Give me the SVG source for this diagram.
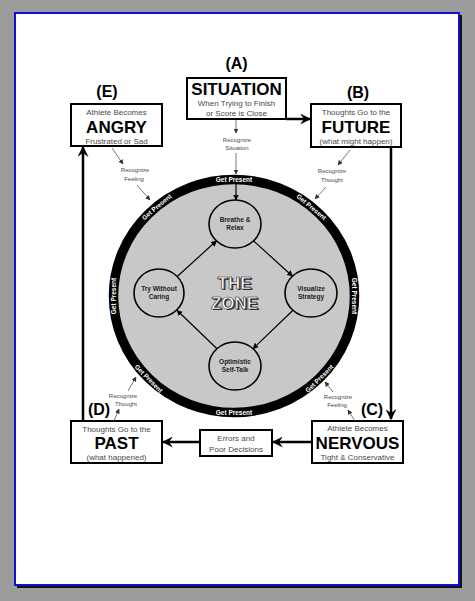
<svg xmlns="http://www.w3.org/2000/svg" width="475" height="601" viewBox="0 0 475 601">
<defs>
<style>
.lbl{font-family:"Liberation Sans",Arial,sans-serif;font-weight:bold;font-size:16px;fill:#000;text-anchor:middle}
.title{font-family:"Liberation Sans",Arial,sans-serif;font-weight:bold;font-size:17px;fill:#000;text-anchor:middle}
.sub{font-family:"Liberation Sans",Arial,sans-serif;font-size:8px;fill:#4a4a4a;text-anchor:middle}
.rec{font-family:"Liberation Sans",Arial,sans-serif;font-size:6px;fill:#4a4a4a;text-anchor:middle}
.box{fill:#fff;stroke:#000;stroke-width:2}
.thick{stroke:#000;stroke-width:2.5;fill:none;marker-end:url(#big)}
.thin{stroke:#555;stroke-width:0.8;fill:none;marker-end:url(#small)}
.inner{stroke:#000;stroke-width:1.2;fill:none;marker-end:url(#mid)}
.node{fill:#c8c8c8;stroke:#000;stroke-width:1.6}
.ntx{font-family:"Liberation Sans",Arial,sans-serif;font-weight:bold;font-size:6.5px;fill:#222;text-anchor:middle}
.gp{font-family:"Liberation Sans",Arial,sans-serif;font-weight:bold;font-size:6.5px;fill:#fff;text-anchor:middle;dominant-baseline:central}
.zone{font-family:"Liberation Sans",Arial,sans-serif;font-weight:bold;font-size:17px;text-anchor:middle}
</style>
<marker id="big" viewBox="0 0 10 10" refX="9" refY="5" markerWidth="11" markerHeight="11" markerUnits="userSpaceOnUse" orient="auto"><path d="M0,0 L10,5 L0,10 L3.5,5 z" fill="#000"/></marker>
<marker id="small" viewBox="0 0 10 10" refX="9" refY="5" markerWidth="5" markerHeight="5" markerUnits="userSpaceOnUse" orient="auto"><path d="M0,0 L10,5 L0,10 z" fill="#333"/></marker>
<marker id="mid" viewBox="0 0 10 10" refX="9" refY="5" markerWidth="6" markerHeight="6" markerUnits="userSpaceOnUse" orient="auto"><path d="M0,0 L10,5 L0,10 z" fill="#000"/></marker>
</defs>

<rect x="0" y="0" width="475" height="601" fill="#9c9c9c"/>
<rect x="17" y="15" width="445" height="573" fill="#111"/>
<rect x="15" y="13" width="444" height="572" fill="#fff" stroke="#1010d0" stroke-width="2"/>

<g id="zone">
<ellipse cx="234" cy="296" rx="120.5" ry="116.5" fill="#c8c8c8" stroke="#000" stroke-width="9.5"/>
<text class="gp" transform="translate(234,179.5)">Get Present</text>
<text class="gp" transform="translate(311.5,206.8) rotate(40)">Get Present</text>
<text class="gp" transform="translate(354.5,296) rotate(90)">Get Present</text>
<text class="gp" transform="translate(319.2,378.4) rotate(-45)">Get Present</text>
<text class="gp" transform="translate(234,412.5)">Get Present</text>
<text class="gp" transform="translate(148.8,378.4) rotate(45)">Get Present</text>
<text class="gp" transform="translate(113.5,296) rotate(-90)">Get Present</text>
<text class="gp" transform="translate(156.5,206.8) rotate(-40)">Get Present</text>
<text class="zone" x="236" y="290" fill="#333">THE</text>
<text class="zone" x="236" y="310" fill="#333">ZONE</text>
<text class="zone" x="234.5" y="288.5" fill="#fff" stroke="#222" stroke-width="0.6">THE</text>
<text class="zone" x="234.5" y="308.5" fill="#fff" stroke="#222" stroke-width="0.6">ZONE</text>
</g>

<g id="breathe">
<ellipse class="node" cx="235" cy="224" rx="26" ry="24"/>
<text class="ntx" x="235" y="222">Breathe &amp;</text>
<text class="ntx" x="235" y="230">Relax</text>
</g>
<g id="visualize">
<ellipse class="node" cx="311" cy="293" rx="26" ry="24"/>
<text class="ntx" x="311" y="291">Visualize</text>
<text class="ntx" x="311" y="299">Strategy</text>
</g>
<g id="optimistic">
<ellipse class="node" cx="235" cy="366" rx="26" ry="24"/>
<text class="ntx" x="235" y="364">Optimistic</text>
<text class="ntx" x="235" y="372">Self-Talk</text>
</g>
<g id="try">
<ellipse class="node" cx="159" cy="293" rx="25" ry="24"/>
<text class="ntx" x="159" y="291">Try Without</text>
<text class="ntx" x="159" y="299">Caring</text>
</g>

<g id="situation">
<text class="lbl" x="236.5" y="69">(A)</text>
<rect class="box" x="187" y="78" width="99" height="41"/>
<text class="title" x="236.5" y="94.5">SITUATION</text>
<text class="sub" x="236.5" y="105.5">When Trying to Finish</text>
<text class="sub" x="236.5" y="115.5">or Score is Close</text>
</g>
<g id="future">
<text class="lbl" x="358" y="98">(B)</text>
<rect class="box" x="311" y="104" width="90" height="43"/>
<text class="sub" x="356" y="115">Thoughts Go to the</text>
<text class="title" x="356" y="133">FUTURE</text>
<text class="sub" x="356" y="144">(what might happen)</text>
</g>
<g id="nervous">
<text class="lbl" x="372" y="415">(C)</text>
<rect class="box" x="312" y="421" width="91" height="42"/>
<text class="sub" x="357.5" y="431">Athlete Becomes</text>
<text class="title" x="357.5" y="448.5">NERVOUS</text>
<text class="sub" x="357.5" y="460">Tight &amp; Conservative</text>
</g>
<g id="errors">
<rect class="box" x="200" y="430" width="72" height="26" stroke-width="1.5"/>
<text class="sub" x="236" y="441">Errors and</text>
<text class="sub" x="236" y="451.5">Poor Decisions</text>
</g>
<g id="past">
<text class="lbl" x="99" y="415">(D)</text>
<rect class="box" x="71" y="421" width="91" height="42"/>
<text class="sub" x="116.5" y="431.5">Thoughts Go to the</text>
<text class="title" x="116.5" y="448.5">PAST</text>
<text class="sub" x="116.5" y="460">(what happened)</text>
</g>
<g id="angry">
<text class="lbl" x="107" y="97">(E)</text>
<rect class="box" x="71" y="104" width="91" height="42"/>
<text class="sub" x="116.5" y="114.5">Athlete Becomes</text>
<text class="title" x="116.5" y="133">ANGRY</text>
<text class="sub" x="116.5" y="144">Frustrated or Sad</text>
</g>

<g id="connectors">
<line class="thick" x1="286" y1="119" x2="310" y2="119"/>
<line class="thick" x1="391" y1="147" x2="391" y2="419"/>
<line class="thick" x1="312" y1="442" x2="273" y2="442"/>
<line class="thick" x1="200" y1="442" x2="163" y2="442"/>
<line class="thick" x1="83" y1="421" x2="83" y2="147"/>

<line class="inner" x1="177.5" y1="276.2" x2="216.5" y2="240.8"/>
<line class="inner" x1="253.5" y1="240.8" x2="292.5" y2="276.2"/>
<line class="inner" x1="293" y1="310.3" x2="253" y2="348.7"/>
<line class="inner" x1="217" y1="348.7" x2="177" y2="310.3"/>

<line class="thin" x1="236" y1="120" x2="236" y2="133"/>
<text class="rec" x="237" y="142">Recognize</text>
<text class="rec" x="237" y="150">Situation</text>
<line class="thin" x1="236" y1="153" x2="236" y2="174"/>
<line class="inner" x1="236" y1="183" x2="236" y2="200"/>

<line class="thin" x1="112" y1="148" x2="123" y2="164"/>
<text class="rec" x="135" y="172">Recognize</text>
<text class="rec" x="134" y="181">Feeling</text>
<line class="thin" x1="137" y1="185" x2="150" y2="200"/>

<line class="thin" x1="350" y1="150" x2="338" y2="165"/>
<text class="rec" x="332" y="173">Recognize</text>
<text class="rec" x="332" y="182">Thought</text>
<line class="thin" x1="326" y1="187" x2="315" y2="199"/>

<line class="thin" x1="114" y1="421" x2="119" y2="409"/>
<text class="rec" x="123" y="398">Recognize</text>
<text class="rec" x="126" y="406">Thought</text>
<line class="thin" x1="128" y1="391" x2="136" y2="377"/>

<line class="thin" x1="355" y1="421" x2="348" y2="410"/>
<text class="rec" x="338" y="399">Recognize</text>
<text class="rec" x="337" y="407">Feeling</text>
<line class="thin" x1="333" y1="392" x2="325" y2="382"/>
</g>
</svg>
